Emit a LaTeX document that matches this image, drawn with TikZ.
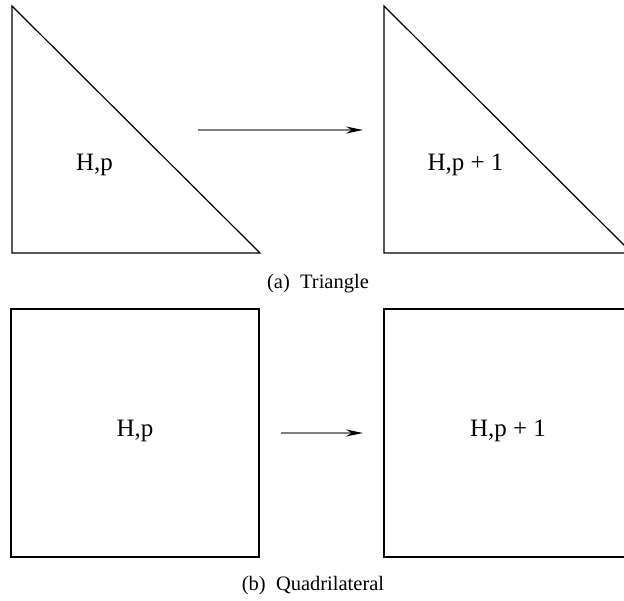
\documentclass[tikz,border=0pt]{standalone}
\usepackage{fontspec}
\setmainfont{Liberation Serif}
\usetikzlibrary{arrows.meta}
\tikzset{
  cell/.style={draw=black, line width=1.2pt},
  lbl/.style={font=\fontsize{25}{28}\selectfont, anchor=base},
  captxt/.style={font=\fontsize{20.5}{24}\selectfont, anchor=base},
  flow/.style={draw=gray, line width=1.6pt, -{Stealth[length=17pt,width=7pt,black]}}
}
\begin{document}
\begin{tikzpicture}[x=1pt,y=-1pt]
\useasboundingbox (0,0) rectangle (624,600);
\clip (0,0) rectangle (624,600);
% Triangles : maillage de depart et d'arrivee
\foreach \x/\w in {12/248, 384/248} {
\draw[cell] (\x,6) -- (\x,253) -- (\x+\w,253) -- cycle;
}
\node[lbl] (tl) at (94.5,170) {H,p};
\node[lbl] (tr) at (465.5,170) {H,p + 1};
% Fleche du haut
\coordinate (ta) at (198,130);
\coordinate (tb) at (363,130);
\draw[flow] (ta) -- (tb);
\node[captxt] (capa) at (318,288) {(a)\ \ Triangle};
% Carres
\foreach \x in {11, 384} {
\draw[cell] (\x,309) rectangle (\x+248,557);
}
\node[lbl] (ql) at (135,436) {H,p};
\node[lbl] (qr) at (508,436) {H,p + 1};
% Fleche du bas
\coordinate (qa) at (281,433);
\coordinate (qb) at (363,433);
\draw[flow] (qa) -- (qb);
\node[captxt] (capb) at (313,590) {(b)\ \ Quadrilateral};
\end{tikzpicture}
\end{document}
